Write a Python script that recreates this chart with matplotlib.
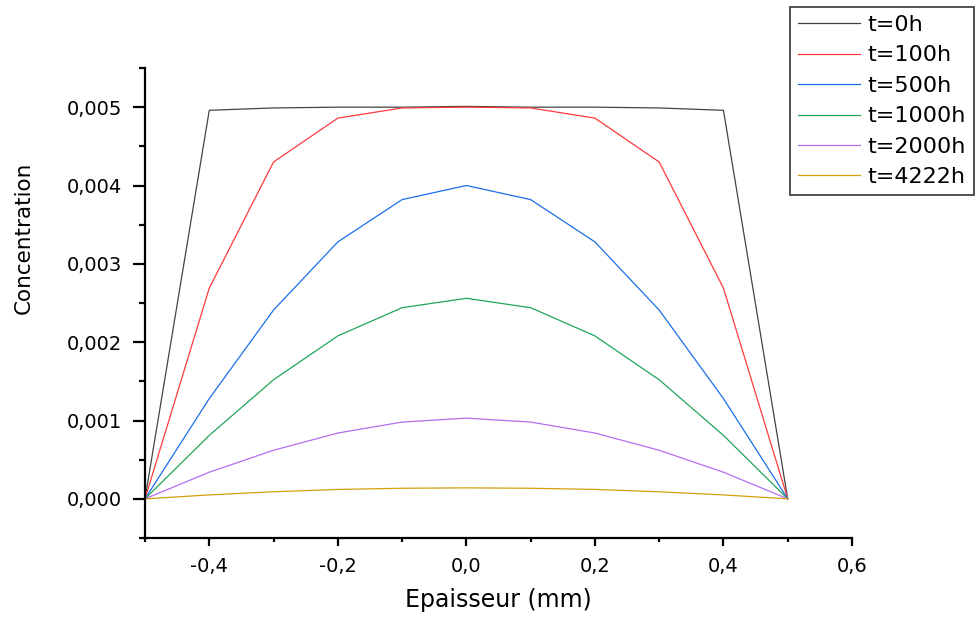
import matplotlib
matplotlib.use('Agg')
from matplotlib import pyplot as plt
from matplotlib.ticker import MultipleLocator, FuncFormatter

x = [-0.5, -0.4, -0.3, -0.2, -0.1, 0.0, 0.1, 0.2, 0.3, 0.4, 0.5]

labels = ['t=0h', 't=100h', 't=500h', 't=1000h', 't=2000h', 't=4222h']
colors = ['#444444', '#ff3b3b', '#1a6fe8', '#20a55a', '#b36ef0', '#d4a00c']

c0 = [0, 0.00496, 0.00499, 0.005, 0.005, 0.00501, 0.005, 0.005, 0.00499, 0.00496, 0]
c100 = [0, 0.00269, 0.0043, 0.00486, 0.00499, 0.005, 0.00499, 0.00486, 0.0043, 0.00269, 0]
c500 = [0, 0.00128, 0.00241, 0.00328, 0.00382, 0.004, 0.00382, 0.00328, 0.00241, 0.00128, 0]
c1000 = [0, 0.00081, 0.00152, 0.00208, 0.00244, 0.00256, 0.00244, 0.00208, 0.00152, 0.00081, 0]
c2000 = [0, 0.00034, 0.00062, 0.00084, 0.00098, 0.00103, 0.00098, 0.00084, 0.00062, 0.00034, 0]
c4222 = [0, 0.00005, 0.00009, 0.00012, 0.000135, 0.00014, 0.000135, 0.00012, 0.00009, 0.00005, 0]

series = [c0, c100, c500, c1000, c2000, c4222]

plt.rcParams['font.family'] = ['DejaVu Sans']

fig = plt.figure(figsize=(9.75, 6.17), dpi=100)
ax = fig.add_axes([145 / 975, 1 - 538 / 617, (852 - 145) / 975, (538 - 68) / 617])

for ys, lab, col in zip(series, labels, colors):
    ax.plot(x, ys, color=col, lw=0.9, label=lab)

ax.set_xlim(-0.5, 0.6)
ax.set_ylim(-0.0005, 0.0055)

ax.xaxis.set_major_locator(MultipleLocator(0.2))
ax.xaxis.set_minor_locator(MultipleLocator(0.1))
ax.yaxis.set_major_locator(MultipleLocator(0.001))
ax.yaxis.set_minor_locator(MultipleLocator(0.0005))

ax.xaxis.set_major_formatter(FuncFormatter(lambda v, p: ('%.1f' % v).replace('.', ',').replace('-0,0', '0,0')))
ax.yaxis.set_major_formatter(FuncFormatter(lambda v, p: ('%.3f' % v).replace('.', ',').replace('-0,000', '0,000')))

ax.spines['top'].set_visible(False)
ax.spines['right'].set_visible(False)
ax.spines['left'].set_linewidth(1.6)
ax.spines['bottom'].set_linewidth(1.6)

ax.tick_params(axis='x', which='major', direction='out', length=6, width=1.6, labelsize=14, pad=8)
ax.tick_params(axis='x', which='minor', direction='out', length=3, width=1.6)
ax.tick_params(axis='y', which='major', direction='out', length=8.5, width=1.6, labelsize=14, pad=8)
ax.tick_params(axis='y', which='minor', direction='out', length=4.5, width=1.6)

ax.set_xlabel('Epaisseur (mm)', fontsize=17, labelpad=8)
ax.set_ylabel('Concentration', fontsize=15.5)
ax.yaxis.set_label_coords(-0.157, 0.638)

leg = fig.legend(loc='upper right', bbox_to_anchor=(974 / 975, 1 - 7 / 617),
                 fontsize=16, frameon=True, fancybox=False, edgecolor='black',
                 handlelength=2.8, handletextpad=0.35, labelspacing=0.47,
                 borderpad=0.36, borderaxespad=0)
leg.get_frame().set_linewidth(1.2)

fig.savefig('out.png', dpi=100)
